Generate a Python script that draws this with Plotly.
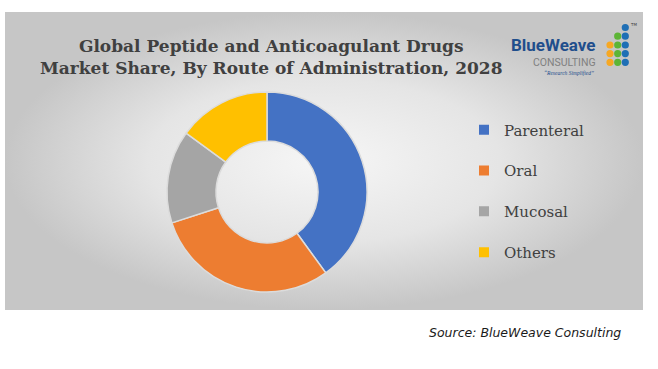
import plotly.graph_objects as go

# ---- data ----
routes = ["Parenteral", "Oral", "Mucosal", "Others"]
shares = [40.0, 30.0, 15.0, 15.0]
colors = ["#4472C4", "#ED7D31", "#A5A5A5", "#FFC000"]

title_text = ("<b>Global Peptide and Anticoagulant Drugs<br>"
              "Market Share, By Route of Administration, 2028</b>")
source_text = "Source: BlueWeave Consulting"

W, H = 658, 369

fig = go.Figure()

# background panel with radial gradient
px0, px1, py0, py1 = 5, 643, 12, 310
fig.add_trace(go.Scatter(
    x=[px0, px1, px1, px0, px0], y=[py0, py0, py1, py1, py0],
    mode="lines", line=dict(width=0), fill="toself",
    fillgradient=dict(type="radial",
                      colorscale=[[0, "#f6f6f6"], [0.55, "#e5e5e5"], [1, "#c6c6c6"]]),
    hoverinfo="skip", showlegend=False))

# donut
cx, cy, r = 267, 192, 100
fig.add_trace(go.Pie(
    labels=routes, values=shares, hole=0.51, sort=False, direction="clockwise",
    rotation=0, textinfo="none", showlegend=False,
    marker=dict(colors=colors, line=dict(color="#dcdcdc", width=1.5)),
    domain=dict(x=[(cx - r) / W, (cx + r) / W], y=[(H - cy - r) / H, (H - cy + r) / H])))

# legend entries
for name, col in zip(routes, colors):
    fig.add_trace(go.Scatter(
        x=[None], y=[None], mode="markers", name=name, legendgroup=name,
        marker=dict(symbol="square", size=10, color=col)))

shapes = [dict(type="rect", xref="x", yref="y", x0=460, x1=598, y0=110, y1=271,
               fillcolor="rgba(232,232,232,0.85)", line=dict(width=0), layer="below")]

# logo dots
dot_cols = [610, 617.7, 625.3]
dot_rows = [27.5, 36.2, 45, 53.6, 62.3]
pattern = [
    [None, None, "#1F6FB5"],
    [None, "#5DB536", "#1F6FB5"],
    ["#F7A823", "#5DB536", "#1F6FB5"],
    ["#F7A823", "#5DB536", "#1F6FB5"],
    ["#F7A823", "#5DB536", "#1F6FB5"],
]
for ri, row in enumerate(pattern):
    for ci, c in enumerate(row):
        if c:
            x, y = dot_cols[ci], dot_rows[ri]
            shapes.append(dict(type="circle", xref="x", yref="y",
                               x0=x - 3.6, x1=x + 3.6, y0=y - 3.6, y1=y + 3.6,
                               fillcolor=c, line=dict(width=0)))

annotations = [
    dict(x=271, y=57, xref="x", yref="y", text=title_text, showarrow=False,
         font=dict(family="DejaVu Serif, serif", size=17, color="#404040"),
         align="center", xanchor="center", yanchor="middle"),
    dict(x=623, y=332, xref="x", yref="y", text=source_text, showarrow=False,
         font=dict(family="DejaVu Sans, Verdana, sans-serif", size=12.5, color="#1a1a1a", style="italic"),
         xanchor="right", yanchor="middle"),
    dict(x=598, y=45, xref="x", yref="y", text="<b>BlueWeave</b>", showarrow=False,
         font=dict(family="Roboto, sans-serif", size=17, color="#1F4E8C"),
         xanchor="right", yanchor="middle"),
    dict(x=598, y=62.5, xref="x", yref="y", text="CONSULTING", showarrow=False,
         font=dict(family="Roboto, sans-serif", size=10.5, color="#808080"),
         xanchor="right", yanchor="middle"),
    dict(x=596, y=73, xref="x", yref="y", text="“Research Simplified”", showarrow=False,
         font=dict(family="Liberation Serif, serif", size=5.5, color="#1F4E8C", style="italic"),
         xanchor="right", yanchor="middle"),
    dict(x=633, y=24.5, xref="x", yref="y", text="TM", showarrow=False,
         font=dict(family="DejaVu Sans, sans-serif", size=4, color="#404040"),
         xanchor="center", yanchor="middle"),
]

fig.update_layout(
    width=W, height=H, autosize=False,
    margin=dict(l=0, r=0, t=0, b=0),
    paper_bgcolor="white", plot_bgcolor="white",
    xaxis=dict(range=[0, W], visible=False, fixedrange=True),
    yaxis=dict(range=[H, 0], visible=False, fixedrange=True),
    shapes=shapes, annotations=annotations,
    showlegend=True,
    legend=dict(x=464 / W, y=(H - 113.5) / H, xanchor="left", yanchor="top",
                bgcolor="rgba(0,0,0,0)", traceorder="grouped", tracegroupgap=18.3,
                font=dict(family="DejaVu Serif, Liberation Serif, serif", size=15, color="#404040"),
                itemclick=False, itemdoubleclick=False),
)

fig.write_html("out.html", config={"displayModeBar": False},
               post_script="document.body.style.margin='0';document.body.style.padding='0';")
